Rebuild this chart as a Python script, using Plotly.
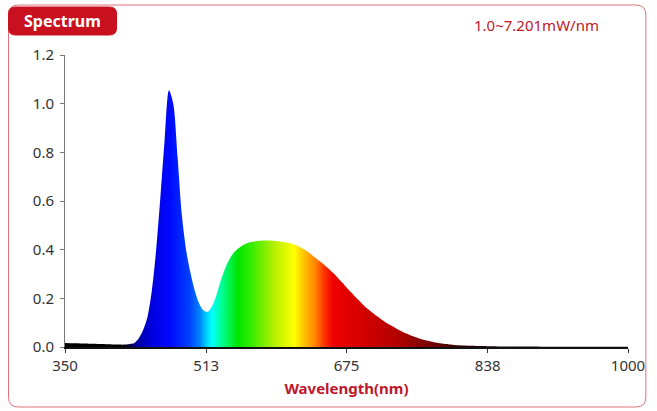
import plotly.graph_objects as go

# ---- data ----
wavelengths = [350, 360, 370, 380, 390, 400, 410, 420, 425, 430, 435, 440, 445, 450, 455,
               460, 465, 470, 475, 480, 485, 490, 495, 500, 505, 510, 515, 520, 525, 530,
               535, 540, 545, 550, 555, 560, 565, 570, 575, 580, 585, 590, 595, 600, 605,
               610, 615, 620, 625, 630, 635, 640, 645, 650, 655, 660, 665, 670, 675, 680,
               685, 690, 695, 700, 705, 710, 715, 720, 725, 730, 735, 740, 745, 750, 755,
               760, 765, 770, 775, 780, 785, 790, 795, 800, 810, 820, 830, 840, 860, 880,
               900, 950, 1000]
intensity = [0.016, 0.015, 0.014, 0.013, 0.012, 0.011, 0.010, 0.010, 0.012, 0.016, 0.035, 0.068, 0.12, 0.225, 0.39,
             0.61, 0.85, 1.055, 1.0, 0.78, 0.54, 0.395, 0.303, 0.23, 0.178, 0.150, 0.145, 0.170, 0.215, 0.275,
             0.325, 0.362, 0.388, 0.405, 0.417, 0.426, 0.431, 0.435, 0.437, 0.438, 0.438, 0.437, 0.435, 0.433, 0.430,
             0.426, 0.421, 0.413, 0.403, 0.392, 0.378, 0.364, 0.350, 0.335, 0.320, 0.303, 0.284, 0.265, 0.245, 0.226,
             0.207, 0.189, 0.171, 0.155, 0.141, 0.127, 0.114, 0.102, 0.091, 0.081, 0.071, 0.062, 0.054, 0.046, 0.040,
             0.034, 0.029, 0.025, 0.021, 0.017, 0.014, 0.012, 0.010, 0.008, 0.006, 0.005, 0.004, 0.003, 0.002, 0.002,
             0.0015, 0.001, 0.001]

x_tick_values = [350, 513, 675, 838, 1000]
y_tick_values = [0.0, 0.2, 0.4, 0.6, 0.8, 1.0, 1.2]
y_tick_labels = ["0.0", "0.2", "0.4", "0.6", "0.8", "1.0", "1.2"]

color_nm = [350, 418, 432, 450, 470, 492, 504, 511, 518, 530, 548, 562, 590, 612, 627, 636,
            646, 657, 695, 733, 771, 810, 1000]
color_hex = ["#000000", "#000000", "#0000a0", "#0000e0", "#0008ff", "#0040ff", "#0080ff", "#00c8ff",
             "#00ffff", "#00ff90", "#00e400", "#30ec00", "#b8f000", "#ffff00", "#ffb000", "#ff8800",
             "#ff3800", "#f00000", "#d00000", "#b00000", "#700000", "#200000", "#000000"]

title_text = "Spectrum"
range_text = "1.0~7.201mW/nm"
x_title = "Wavelength(nm)"

# ---- layout geometry ----
W, H = 657, 411
PL, PR, PT, PB = 65, 633, 55, 347

def fx(p):
    return (p - PL) / (PR - PL)

def fy(p):
    return (PB - p) / (PB - PT)

def rrect(x0, y0, x1, y1, r):
    pts = [
        ("M", [(x0 + r, y0)]), ("L", [(x1 - r, y0)]), ("Q", [(x1, y0), (x1, y0 + r)]),
        ("L", [(x1, y1 - r)]), ("Q", [(x1, y1), (x1 - r, y1)]), ("L", [(x0 + r, y1)]),
        ("Q", [(x0, y1), (x0, y1 - r)]), ("L", [(x0, y0 + r)]), ("Q", [(x0, y0), (x0 + r, y0)]),
    ]
    s = ""
    for cmd, ps in pts:
        s += cmd + " " + " ".join(f"{fx(a):.5f},{fy(b):.5f}" for a, b in ps) + " "
    return s + "Z"

lo, hi = wavelengths[0], wavelengths[-1]
colorscale = [[(n - lo) / (hi - lo), c] for n, c in zip(color_nm, color_hex)]

fig = go.Figure()
fig.add_trace(go.Scatter(
    x=wavelengths, y=intensity, mode="lines",
    line=dict(shape="spline", smoothing=0.8, width=0.5, color="rgba(0,0,0,0)"),
    fill="tozeroy",
    fillgradient=dict(type="horizontal", colorscale=colorscale, start=lo, stop=hi),
    hoverinfo="x+y", showlegend=False,
))

font_family = "Noto Sans, Open Sans, DejaVu Sans, sans-serif"
fig.update_layout(
    width=W, height=H,
    margin=dict(l=PL, r=W - PR, t=PT, b=H - PB),
    paper_bgcolor="white", plot_bgcolor="white",
    font=dict(family=font_family, size=14, color="#333333"),
    xaxis=dict(
        range=[lo, hi], tickmode="array", tickvals=x_tick_values,
        ticktext=[str(v) for v in x_tick_values],
        showgrid=False, zeroline=False, showline=True, linecolor="#111111", linewidth=2,
        ticks="outside", ticklen=4, tickcolor="#333333", tickwidth=1,
        tickfont=dict(size=15, color="#333333"),
        title=dict(text=x_title, standoff=9,
                   font=dict(size=15, color="#c0162a", weight="bold")),
    ),
    yaxis=dict(
        range=[0, 1.2], tickmode="array", tickvals=y_tick_values, ticktext=y_tick_labels,
        showgrid=False, zeroline=False, showline=True, linecolor="#777777", linewidth=1,
        ticks="outside", ticklen=4, tickcolor="#777777", ticklabelstandoff=3,
        tickfont=dict(size=15, color="#333333"),
    ),
    shapes=[
        dict(type="path", xref="paper", yref="paper", path=rrect(8, 5, 651, 407, 10),
             line=dict(color="#e2707c", width=1), fillcolor="rgba(0,0,0,0)", layer="below"),
        dict(type="path", xref="paper", yref="paper", path=rrect(8, 7, 117, 35, 7),
             line=dict(color="#c8101e", width=1), fillcolor="#c8101e", layer="above"),
    ],
    annotations=[
        dict(text=title_text, xref="paper", yref="paper", x=fx(62.5), y=fy(21),
             xanchor="center", yanchor="middle", showarrow=False,
             font=dict(size=16, color="white", weight="bold", family=font_family)),
        dict(text=range_text, xref="paper", yref="paper", x=fx(541), y=fy(25),
             xanchor="center", yanchor="middle", showarrow=False,
             font=dict(size=15, color="#c0182a", family=font_family)),
    ],
)

fig.write_html("out.html", config={"displayModeBar": False},
               post_script="document.body.style.margin='0';")
